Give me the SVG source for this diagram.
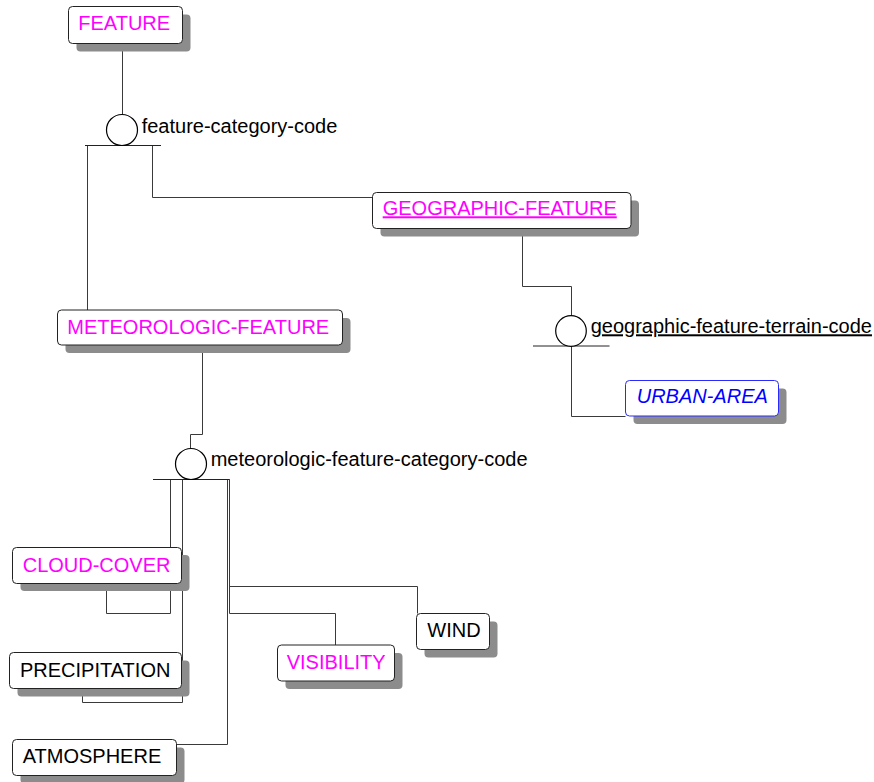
<svg xmlns="http://www.w3.org/2000/svg" width="874" height="782" viewBox="0 0 874 782">
<style>
  .box { fill: #ffffff; stroke: #222222; stroke-width: 1; }
  .blue { stroke: #2a2aff; }
  .shadow { fill: #8c8c8c; stroke: none; }
  .lbl { font-family: "Liberation Sans", Arial, sans-serif; font-size: 20px; }
  .mag { fill: #ff00ff; }
  .blk { fill: #000000; }
  .bl { fill: #0000ff; font-style: italic; }
  .conn { fill: none; stroke: #3a3a3a; stroke-width: 1; }
  .circ { fill: #ffffff; stroke: #000000; stroke-width: 1.2; }
  .bar { stroke: #222222; stroke-width: 1; }
</style>
<rect width="874" height="782" fill="#ffffff"/>
<g id="connectors">
  <line class="conn" x1="122.5" y1="43" x2="122.5" y2="115"/>
  <polyline class="conn" points="87.5,145.5 87.5,310"/>
  <polyline class="conn" points="152.5,145.5 152.5,197.5 372.5,197.5"/>
  <polyline class="conn" points="522.5,236 522.5,286.5 571.5,286.5 571.5,316"/>
  <polyline class="conn" points="571.5,346 571.5,416.5 625.5,416.5"/>
  <polyline class="conn" points="202.5,353 202.5,434.5 190.5,434.5 190.5,448.5"/>
  <polyline class="conn" points="170.5,479.5 170.5,613.5 106.5,613.5 106.5,591"/>
  <polyline class="conn" points="182.5,479.5 182.5,702.5 82.5,702.5 82.5,696"/>
  <polyline class="conn" points="227.5,479.5 227.5,744.5 176.5,744.5"/>
  <polyline class="conn" points="229.5,479.5 229.5,586.5 417.5,586.5 417.5,613.5"/>
  <polyline class="conn" points="229.5,479.5 229.5,613.5 335.5,613.5 335.5,645"/>
</g>
<g id="cat-feature-category-code">
  <line class="bar" x1="85" y1="145.5" x2="161" y2="145.5"/>
  <circle class="circ" cx="122" cy="130" r="15.5"/>
  <text class="lbl blk" x="141.7" y="132.7">feature-category-code</text>
</g>
<g id="cat-geographic-feature-terrain-code">
  <line class="bar" x1="533" y1="346" x2="609.5" y2="346"/>
  <circle class="circ" cx="571" cy="331" r="15.3"/>
  <text class="lbl blk" x="590.7" y="333.3" text-decoration="underline">geographic-feature-terrain-code</text>
</g>
<g id="cat-meteorologic-feature-category-code">
  <line class="bar" x1="153" y1="479.5" x2="229.5" y2="479.5"/>
  <circle class="circ" cx="191" cy="464" r="15.5"/>
  <text class="lbl blk" x="210.7" y="465.7">meteorologic-feature-category-code</text>
</g>
<g id="FEATURE">
  <rect class="shadow" x="76.5" y="14.5" width="114" height="37" rx="4"/>
  <rect class="box" x="68.5" y="6.5" width="114" height="37" rx="4"/>
  <text class="lbl mag" x="78.3" y="30">FEATURE</text>
</g>
<g id="GEOGRAPHIC-FEATURE">
  <rect class="shadow" x="380.5" y="200.5" width="258.5" height="36" rx="4"/>
  <rect class="box" x="372.5" y="192.5" width="258.5" height="36" rx="4"/>
  <text class="lbl mag" x="382.7" y="215.3" text-decoration="underline">GEOGRAPHIC-FEATURE</text>
</g>
<g id="URBAN-AREA">
  <rect class="shadow" x="633.5" y="388.5" width="153" height="35.5" rx="4"/>
  <rect class="box blue" x="625.5" y="380.5" width="153" height="35.5" rx="4"/>
  <text class="lbl bl" x="636.7" y="402.7">URBAN-AREA</text>
</g>
<g id="METEOROLOGIC-FEATURE">
  <rect class="shadow" x="65.5" y="318" width="285" height="35" rx="4"/>
  <rect class="box" x="57.5" y="310" width="285" height="35" rx="4"/>
  <text class="lbl mag" x="67.3" y="334">METEOROLOGIC-FEATURE</text>
</g>
<g id="CLOUD-COVER">
  <rect class="shadow" x="20.5" y="555" width="169" height="36" rx="4"/>
  <rect class="box" x="12.5" y="547.5" width="169" height="36" rx="4"/>
  <text class="lbl mag" x="22.7" y="571.7">CLOUD-COVER</text>
</g>
<g id="PRECIPITATION">
  <rect class="shadow" x="17.5" y="660.5" width="172" height="36" rx="4"/>
  <rect class="box" x="9.5" y="652.5" width="172" height="36" rx="4"/>
  <text class="lbl blk" x="20" y="676.7">PRECIPITATION</text>
</g>
<g id="ATMOSPHERE">
  <rect class="shadow" x="20.5" y="747.5" width="164" height="36" rx="4"/>
  <rect class="box" x="12.5" y="739.5" width="164" height="36" rx="4"/>
  <text class="lbl blk" x="22.7" y="763.3">ATMOSPHERE</text>
</g>
<g id="VISIBILITY">
  <rect class="shadow" x="285.5" y="653" width="117" height="36" rx="4"/>
  <rect class="box" x="277.5" y="645" width="117" height="36" rx="4"/>
  <text class="lbl mag" x="286.7" y="669.3">VISIBILITY</text>
</g>
<g id="WIND">
  <rect class="shadow" x="424.5" y="621.5" width="73" height="36" rx="4"/>
  <rect class="box" x="416.5" y="613.5" width="73" height="36" rx="4"/>
  <text class="lbl blk" x="427.3" y="636.7">WIND</text>
</g>
</svg>
